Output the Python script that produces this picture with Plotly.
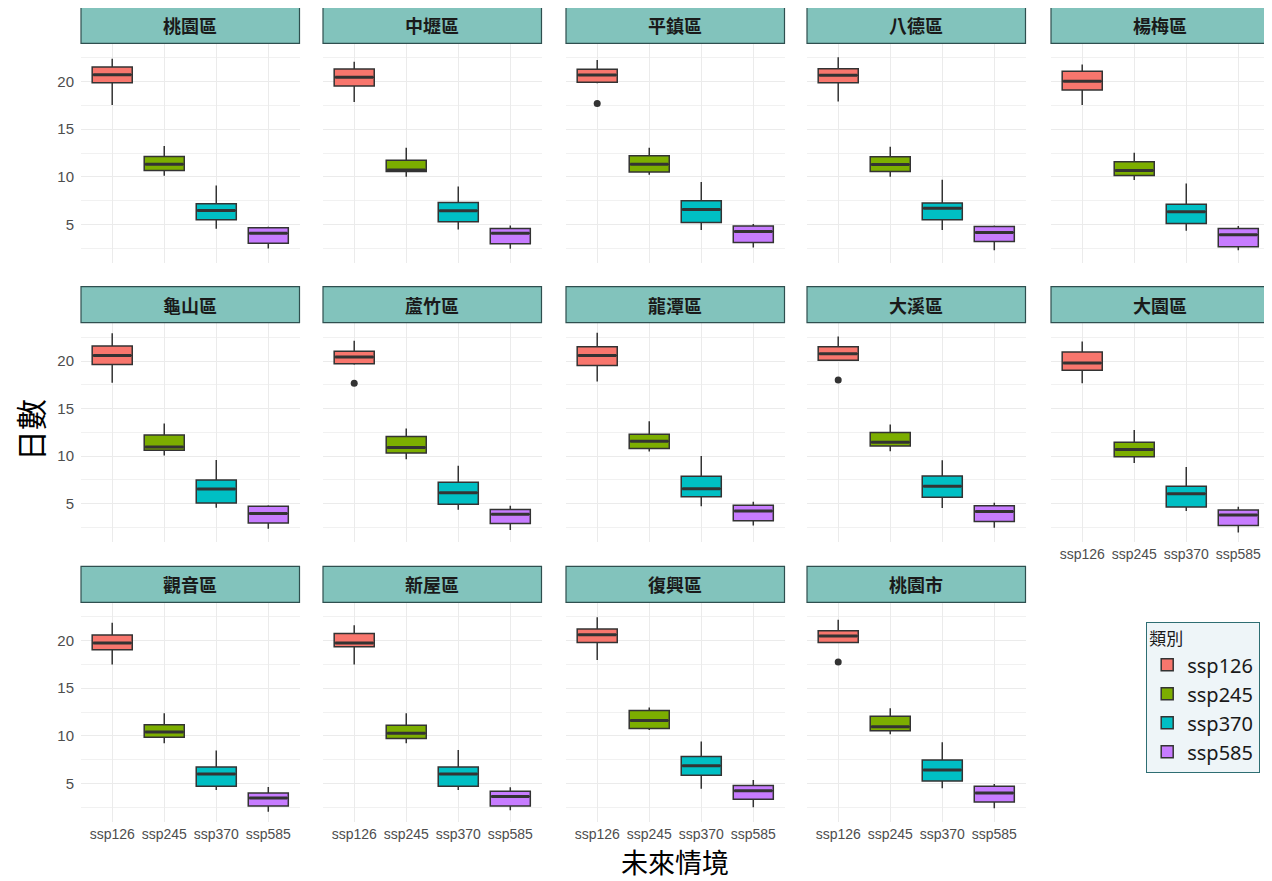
import plotly.graph_objects as go

W, H = 1272, 881
OFF = 8  # page body margin

DISTRICTS = ["桃園區", "中壢區", "平鎮區", "八德區", "楊梅區",
             "龜山區", "蘆竹區", "龍潭區", "大溪區", "大園區",
             "觀音區", "新屋區", "復興區", "桃園市"]
SCENARIOS = ["ssp126", "ssp245", "ssp370", "ssp585"]
COLORS = ["#F8766D", "#7CAE00", "#00BFC4", "#C77CFF"]

# per district: [ssp126, ssp245, ssp370, ssp585]
LOWER = [
    [17.54, 10.10, 4.53, 2.46],
    [17.86, 10.00, 4.46, 2.42],
    [19.85, 10.21, 4.39, 2.56],
    [17.93, 10.00, 4.39, 2.28],
    [17.54, 9.65, 4.32, 2.28],
    [17.72, 10.06, 4.58, 2.37],
    [19.62, 9.67, 4.37, 2.23],
    [17.86, 10.48, 4.72, 2.72],
    [20.00, 10.52, 4.55, 2.47],
    [17.68, 9.29, 4.23, 1.98],
    [17.51, 9.22, 4.30, 2.02],
    [17.51, 9.22, 4.30, 2.16],
    [17.96, 10.62, 4.44, 2.47],
    [19.72, 10.17, 4.47, 2.37],
]
Q1 = [
    [19.89, 10.67, 5.47, 3.02],
    [19.54, 10.56, 5.26, 2.95],
    [19.93, 10.49, 5.19, 3.09],
    [19.89, 10.56, 5.47, 3.19],
    [19.12, 10.14, 5.09, 2.63],
    [19.65, 10.62, 5.07, 2.96],
    [19.72, 10.34, 4.93, 2.93],
    [19.54, 10.80, 5.74, 3.21],
    [20.10, 11.08, 5.67, 3.14],
    [19.05, 9.95, 4.65, 2.72],
    [19.05, 9.85, 4.69, 2.61],
    [19.37, 9.71, 4.69, 2.61],
    [19.82, 10.76, 5.84, 3.32],
    [19.82, 10.52, 5.25, 3.03],
]
MEDIAN = [
    [20.74, 11.33, 6.46, 4.07],
    [20.46, 10.70, 6.42, 4.07],
    [20.70, 11.33, 6.56, 4.25],
    [20.67, 11.30, 6.70, 4.14],
    [20.04, 10.67, 6.32, 3.89],
    [20.60, 10.97, 6.55, 3.98],
    [20.42, 10.90, 6.16, 3.88],
    [20.60, 11.57, 6.58, 4.23],
    [20.77, 11.46, 6.83, 4.19],
    [19.79, 10.69, 6.06, 3.81],
    [19.75, 10.41, 5.99, 3.46],
    [19.75, 10.27, 5.99, 3.60],
    [20.63, 11.61, 6.86, 4.23],
    [20.49, 10.94, 6.41, 3.98],
]
Q3 = [
    [21.54, 12.14, 7.16, 4.63],
    [21.33, 11.75, 7.30, 4.56],
    [21.30, 12.21, 7.47, 4.81],
    [21.37, 12.11, 7.23, 4.77],
    [21.09, 11.58, 7.12, 4.56],
    [21.58, 12.24, 7.50, 4.72],
    [21.05, 12.06, 7.25, 4.40],
    [21.51, 12.31, 7.88, 4.83],
    [21.51, 12.48, 7.92, 4.79],
    [20.95, 11.46, 6.83, 4.33],
    [20.60, 11.15, 6.72, 3.98],
    [20.77, 11.11, 6.72, 4.16],
    [21.23, 12.66, 7.81, 4.76],
    [21.05, 12.06, 7.46, 4.69],
]
UPPER = [
    [22.42, 13.23, 9.09, 4.74],
    [22.10, 13.05, 8.98, 4.88],
    [22.28, 13.05, 9.44, 5.02],
    [22.56, 13.16, 9.68, 4.88],
    [21.82, 12.53, 9.30, 4.81],
    [22.92, 13.43, 9.60, 4.83],
    [22.14, 12.90, 9.00, 4.79],
    [22.99, 13.68, 10.02, 5.21],
    [22.60, 13.33, 9.56, 5.11],
    [22.07, 12.76, 8.87, 4.69],
    [21.90, 12.38, 8.44, 4.61],
    [21.62, 12.38, 8.51, 4.58],
    [22.46, 12.98, 9.39, 5.35],
    [22.21, 12.90, 9.32, 4.93],
]
OUTLIER_DISTRICT = ["平鎮區", "蘆竹區", "大溪區", "桃園市"]
OUTLIER_SCENARIO = ["ssp126", "ssp126", "ssp126", "ssp126"]
OUTLIER_VALUE = [17.72, 17.68, 18.00, 17.75]

Y_RANGE = [0.93, 24.04]
BOX_WIDTH = 0.77

# ---- panel geometry (screen pixels) ----
COL_LEFT = [81, 323, 566, 807, 1051]
PANEL_W = 218.5
ROW_TOP = [43.3, 322.7, 602.3]
PANEL_H = 219.7
STRIP_H = 36.0


def px(x):
    return (x - OFF) / W


def py(y):
    return 1 - (y - OFF) / H


TICK_FONT = dict(family="Liberation Sans, Arial, sans-serif", size=14, color="#4D4D4D")
CJK = "Noto Sans CJK TC, Noto Sans CJK SC, sans-serif"
LINE_COL = "#333333"

fig = go.Figure()
layout = dict(
    width=W, height=H,
    margin=dict(l=0, r=0, t=0, b=0),
    paper_bgcolor="white", plot_bgcolor="white",
    showlegend=True,
)
shapes = []
annotations = []

for i, name in enumerate(DISTRICTS):
    r, c = divmod(i, 5)
    suf = "" if i == 0 else str(i + 1)
    xa, ya = "x" + suf, "y" + suf
    left = COL_LEFT[c]
    top = ROW_TOP[r]
    xdom = [px(left), px(left + PANEL_W)]
    ydom = [py(top + PANEL_H), py(top)]
    show_x = (r == 2) or (r == 1 and c == 4)
    show_y = (c == 0)
    layout["xaxis" + suf] = dict(
        domain=xdom, anchor=ya, range=[0.4, 4.6],
        tickvals=[1, 2, 3, 4], ticktext=SCENARIOS,
        showticklabels=show_x, ticks="", tickfont=TICK_FONT,
        showgrid=True, gridcolor="#EBEBEB", gridwidth=1,
        zeroline=False, showline=False, ticklabelstandoff=2,
        fixedrange=True,
    )
    layout["yaxis" + suf] = dict(
        domain=ydom, anchor=xa, range=Y_RANGE,
        tickvals=[5, 10, 15, 20], showticklabels=show_y, ticks="",
        tickfont=dict(TICK_FONT, size=15), ticklabelstandoff=6,
        showgrid=True, gridcolor="#EBEBEB", gridwidth=1,
        minor=dict(tickvals=[2.5, 7.5, 12.5, 17.5, 22.5], showgrid=True,
                   gridcolor="#F1F1F1", gridwidth=1),
        zeroline=False, showline=False, fixedrange=True,
    )
    for j, sc in enumerate(SCENARIOS):
        pos = j + 1
        fig.add_trace(go.Box(
            x=[pos], q1=[Q1[i][j]], median=[MEDIAN[i][j]], q3=[Q3[i][j]],
            lowerfence=[LOWER[i][j]], upperfence=[UPPER[i][j]],
            width=BOX_WIDTH, whiskerwidth=0,
            fillcolor=COLORS[j], line=dict(color=LINE_COL, width=1.5),
            name=sc, legendgroup=sc, showlegend=(i == 0),
            boxpoints=False, hoverinfo="skip",
            xaxis=xa, yaxis=ya,
        ))
        # thicker median line (ggplot style)
        fig.add_trace(go.Scatter(
            x=[pos - BOX_WIDTH / 2 + 0.02, pos + BOX_WIDTH / 2 - 0.02],
            y=[MEDIAN[i][j], MEDIAN[i][j]],
            mode="lines", line=dict(color=LINE_COL, width=3),
            showlegend=False, hoverinfo="skip", xaxis=xa, yaxis=ya,
        ))
    # outliers
    ox = [SCENARIOS.index(s) + 1 for d, s in zip(OUTLIER_DISTRICT, OUTLIER_SCENARIO) if d == name]
    oy = [v for d, v in zip(OUTLIER_DISTRICT, OUTLIER_VALUE) if d == name]
    if ox:
        fig.add_trace(go.Scatter(
            x=ox, y=oy, mode="markers",
            marker=dict(color=LINE_COL, size=7),
            showlegend=False, hoverinfo="skip", xaxis=xa, yaxis=ya,
        ))
    # strip
    s_top = top - STRIP_H
    shapes.append(dict(
        type="rect", xref="paper", yref="paper",
        x0=px(left), x1=px(left + PANEL_W),
        y0=py(top), y1=py(s_top),
        fillcolor="#82C3BC", line=dict(color="#2F4F4F", width=1.2),
        layer="above",
    ))
    annotations.append(dict(
        text="<b>%s</b>" % name, xref="paper", yref="paper",
        x=px(left + PANEL_W / 2), y=py(s_top + STRIP_H / 2),
        showarrow=False, xanchor="center", yanchor="middle",
        font=dict(family=CJK, size=18, color="#1A1A1A"),
    ))

annotations.append(dict(
    text="未來情境", xref="paper", yref="paper",
    x=px(675), y=py(861), showarrow=False,
    xanchor="center", yanchor="middle",
    font=dict(family=CJK, size=27, color="#000000"),
))
annotations.append(dict(
    text="日數", xref="paper", yref="paper",
    x=px(30), y=py(430), showarrow=False, textangle=-90,
    xanchor="center", yanchor="middle",
    font=dict(family=CJK, size=31, color="#000000"),
))

layout["shapes"] = shapes
layout["annotations"] = annotations
layout["legend"] = dict(
    x=px(1146), y=py(622), xanchor="left", yanchor="top",
    bgcolor="#EEF5F8", bordercolor="#2E6E73", borderwidth=1.2,
    font=dict(family="Noto Sans, " + CJK, size=20, color="#1A1A1A"),
    title=dict(text="類別", font=dict(family=CJK, size=17, color="#1A1A1A")),
    itemwidth=30, tracegroupgap=0,
)
fig.update_layout(**layout)

fig.write_html("out.html")
